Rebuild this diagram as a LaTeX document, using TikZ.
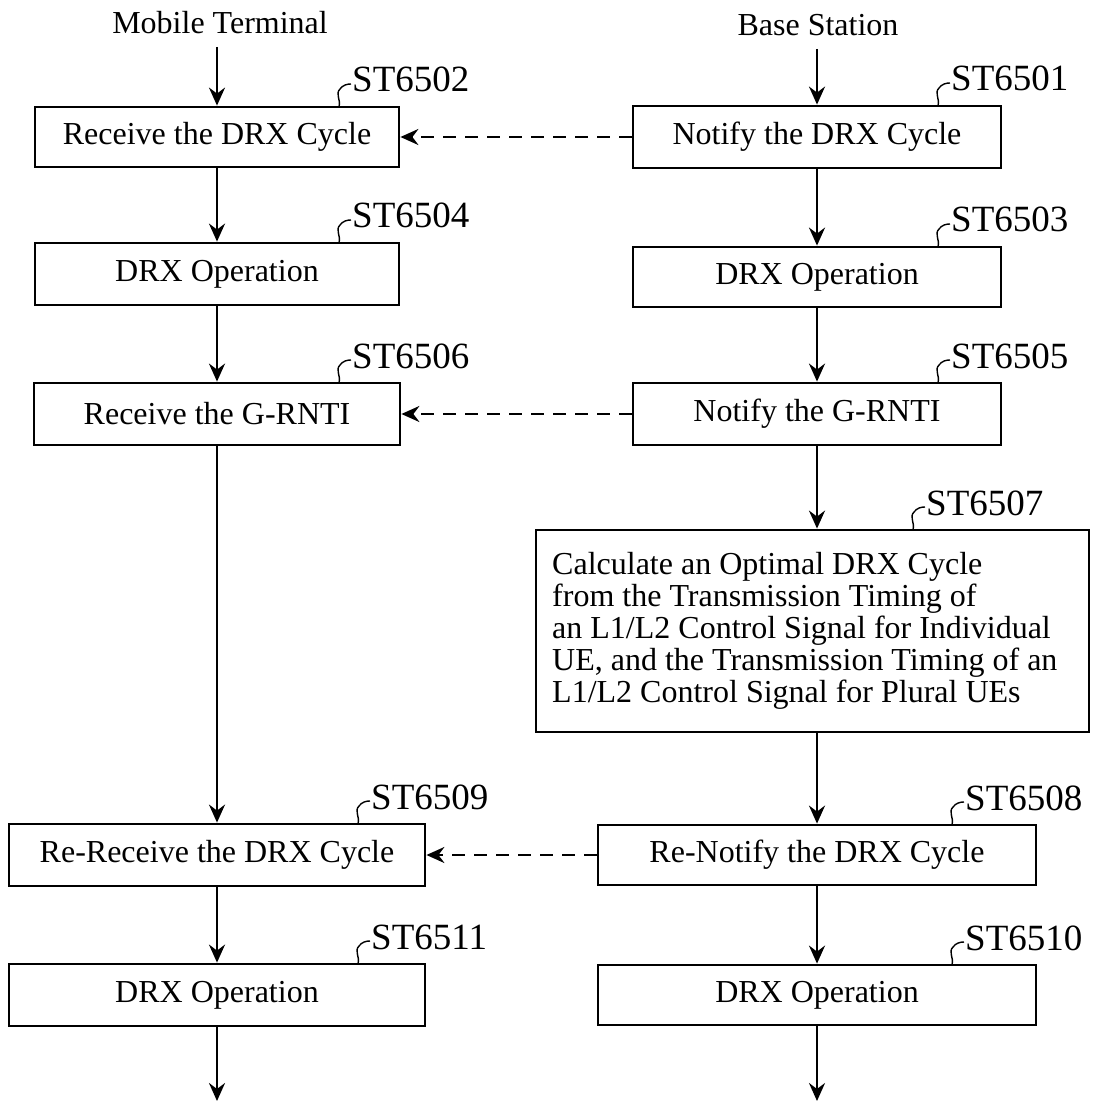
\documentclass[tikz,border=0pt]{standalone}
\usepackage{fontspec}
\setmainfont{Liberation Serif}
\usetikzlibrary{arrows.meta}
\newcommand\stlabel[4]{%
  \draw[hookline] (#2,#3) .. controls (#2+2,#3-8) and (#2-4,#3-13) .. (#2+1,#3-18)
     .. controls (#2+4,#3-22) and (#2+8,#3-23) .. (#2+12,#3-23);
  \node[lbl] (#1) at (#2+13,#3-15) {#4};}
\begin{document}
\begin{tikzpicture}[x=1pt,y=-1pt,
  box/.style={draw,line width=2.8pt,inner sep=0pt,font=\fontsize{32}{32}\selectfont},
  ttl/.style={inner sep=0pt,font=\fontsize{32}{32}\selectfont},
  arr/.style={line width=2.6pt,-{Stealth[length=18pt,width=16pt,inset=6pt]}},
  darr/.style={line width=2.4pt,dash pattern=on 13pt off 9pt,-{Stealth[length=18pt,width=16pt,inset=6pt]}},
  lbl/.style={anchor=base west,inner sep=0pt,font=\fontsize{37}{37}\selectfont},
  hookline/.style={line width=1.4pt}]
\useasboundingbox (0,0) rectangle (1092,1107);

% titles
\node[ttl] (mt) at (220,23) {Mobile Terminal};
\node[ttl] (bs) at (818,25) {Base Station};
\coordinate (mt0) at (217,47);
\coordinate (bs0) at (817,49);

% left column
\node[box,minimum width=364pt,minimum height=60pt] (b6502) at (217,137) {Receive the DRX Cycle};
\node[box,minimum width=364pt,minimum height=62pt] (b6504) at (217,274) {DRX Operation};
\node[box,minimum width=366pt,minimum height=62pt] (b6506) at (217,414) {Receive the G-RNTI};
\node[box,minimum width=416pt,minimum height=62pt] (b6509) at (217,855) {Re-Receive the DRX Cycle};
\node[box,minimum width=416pt,minimum height=62pt] (b6511) at (217,995) {DRX Operation};
\coordinate (mtend) at (217,1101);

% right column
\node[box,minimum width=368pt,minimum height=62pt] (b6501) at (817,137) {Notify the DRX Cycle};
\node[box,minimum width=368pt,minimum height=60pt] (b6503) at (817,277) {DRX Operation};
\node[box,minimum width=368pt,minimum height=62pt] (b6505) at (817,414) {Notify the G-RNTI};
\node[box,minimum width=553pt,minimum height=202pt] (b6507) at (812.5,631) {};
\node[ttl,anchor=west,align=left] (t6507) at (552,631)
  {Calculate an Optimal DRX Cycle\\from the Transmission Timing of\\an L1/L2 Control Signal for Individual\\UE, and the Transmission Timing of an\\L1/L2 Control Signal for Plural UEs};
\node[box,minimum width=438pt,minimum height=60pt] (b6508) at (817,855) {Re-Notify the DRX Cycle};
\node[box,minimum width=438pt,minimum height=60pt] (b6510) at (817,995) {DRX Operation};
\coordinate (bsend) at (817,1101);

% step labels
\stlabel{l6502}{339}{107}{ST6502}
\stlabel{l6504}{339}{243}{ST6504}
\stlabel{l6506}{339}{383}{ST6506}
\stlabel{l6509}{358}{824}{ST6509}
\stlabel{l6511}{358}{964}{ST6511}
\stlabel{l6501}{938}{106}{ST6501}
\stlabel{l6503}{938}{247}{ST6503}
\stlabel{l6505}{938}{383}{ST6505}
\stlabel{l6507}{913}{530}{ST6507}
\stlabel{l6508}{952}{825}{ST6508}
\stlabel{l6510}{952}{965}{ST6510}

% solid arrows left
\draw[arr] (mt0) -- (b6502.north);
\draw[arr] (b6502) -- (b6504);
\draw[arr] (b6504) -- (b6506);
\draw[arr] (b6506) -- (b6509);
\draw[arr] (b6509) -- (b6511);
\draw[arr] (b6511) -- (mtend);

% solid arrows right
\draw[arr] (bs0) -- (b6501.north);
\draw[arr] (b6501) -- (b6503);
\draw[arr] (b6503) -- (b6505);
\draw[arr] (b6505.south) -- (b6505.south |- b6507.north);
\draw[arr] (b6505.south |- b6507.south) -- (b6508.north);
\draw[arr] (b6508) -- (b6510);
\draw[arr] (b6510) -- (bsend);

% dashed arrows
\draw[darr] (b6501.west) -- (b6502.east);
\draw[darr] (b6505.west) -- (b6506.east);
\draw[darr] (b6508.west) -- (b6509.east);
\end{tikzpicture}
\end{document}
